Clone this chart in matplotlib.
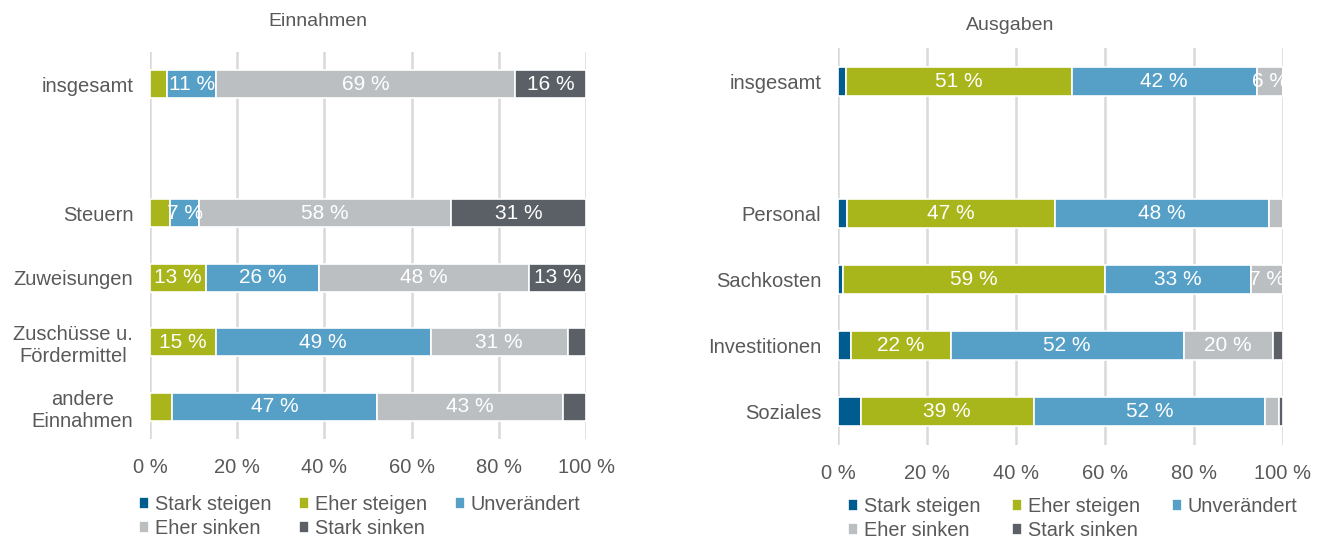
import matplotlib
matplotlib.use('Agg')
import matplotlib.pyplot as plt
import numpy as np

plt.rcParams['font.family'] = ['Liberation Sans', 'DejaVu Sans']

# ===== Daten =====
stufen = ['Stark steigen', 'Eher steigen', 'Unverändert', 'Eher sinken', 'Stark sinken']
farben = ['#005b8e', '#a8b51b', '#56a0c8', '#bcbfc2', '#5b6066']

ein_kat = ['insgesamt', 'Steuern', 'Zuweisungen', 'Zuschüsse u.\nFördermittel', 'andere\nEinnahmen']
ein_stark_steigen = [0, 0, 0, 0, 0]
ein_eher_steigen = [4.0, 4.7, 12.8, 15.1, 5.0]
ein_unveraendert = [11.2, 6.6, 26.0, 49.3, 47.1]
ein_eher_sinken = [68.6, 57.7, 48.1, 31.4, 42.7]
ein_stark_sinken = [16.2, 31.0, 13.1, 4.2, 5.2]

aus_kat = ['insgesamt', 'Personal', 'Sachkosten', 'Investitionen', 'Soziales']
aus_stark_steigen = [1.9, 2.0, 1.1, 3.0, 5.1]
aus_eher_steigen = [50.6, 46.8, 58.9, 22.3, 38.9]
aus_unveraendert = [41.6, 48.0, 32.9, 52.4, 51.9]
aus_eher_sinken = [5.9, 3.2, 7.1, 20.0, 3.2]
aus_stark_sinken = [0, 0, 0, 2.3, 0.9]

TXT = '#595959'
GRID = '#d9d9d9'
W, H = 1326, 539

fig = plt.figure(figsize=(W / 100, H / 100), dpi=100)


def panel(ax, kat, serien, titel_pos, titel, leg_pos, colsp):
    ypos = np.array([0, 2, 3, 4, 5])
    links = np.zeros(len(kat))
    handles = []
    for werte, farbe, name in zip(serien, farben, stufen):
        werte = np.array(werte, dtype=float)
        b = ax.barh(ypos, werte, left=links, height=0.44, color=farbe,
                    edgecolor='white', linewidth=1.2, label=name, zorder=3)
        handles.append(b)
        for y, l, v in zip(ypos, links, werte):
            if v >= 5.5:
                ax.text(l + v / 2, y, f'{round(v)} %', ha='center', va='center',
                        color='white', fontsize=15, zorder=4)
        links += werte
    ax.set_xlim(0, 100)
    ax.set_ylim(5.5, -0.5)
    ax.set_xticks(np.arange(0, 101, 20))
    ax.set_xticklabels([f'{v} %' for v in range(0, 101, 20)])
    ax.set_yticks(ypos)
    ax.set_yticklabels(kat, multialignment='center')
    ax.tick_params(axis='both', length=0, labelsize=14.5, labelcolor=TXT)
    ax.tick_params(axis='x', pad=14)
    ax.tick_params(axis='y', pad=12)
    ax.grid(axis='x', color=GRID, linewidth=1.8, zorder=0)
    for s in ax.spines.values():
        s.set_visible(False)
    fig.text(titel_pos[0] / W, 1 - titel_pos[1] / H, titel, ha='center', va='center',
             fontsize=14, color=TXT)
    # zeilenweise Reihenfolge in der Legende
    order = [0, 3, 1, 4, 2]
    fig.legend([handles[i] for i in order], [stufen[i] for i in order], ncol=3,
               loc='upper left', bbox_to_anchor=(leg_pos[0] / W, 1 - leg_pos[1] / H),
               frameon=False, fontsize=14.3, labelcolor=TXT, handlelength=0.5,
               handleheight=0.5, handletextpad=0.3, columnspacing=colsp,
               labelspacing=0.25, borderaxespad=0, borderpad=0)


ax1 = fig.add_axes([150 / W, 1 - 439 / H, 436 / W, 387 / H])
panel(ax1, ein_kat, [ein_stark_steigen, ein_eher_steigen, ein_unveraendert,
                     ein_eher_sinken, ein_stark_sinken], (318, 22), 'Einnahmen', (139, 495), 1.4)

ax2 = fig.add_axes([838 / W, 1 - 445 / H, 445 / W, 397 / H])
panel(ax2, aus_kat, [aus_stark_steigen, aus_eher_steigen, aus_unveraendert,
                     aus_eher_sinken, aus_stark_sinken], (1010, 25), 'Ausgaben', (848, 497), 1.6)

plt.savefig('out.png', dpi=100)
